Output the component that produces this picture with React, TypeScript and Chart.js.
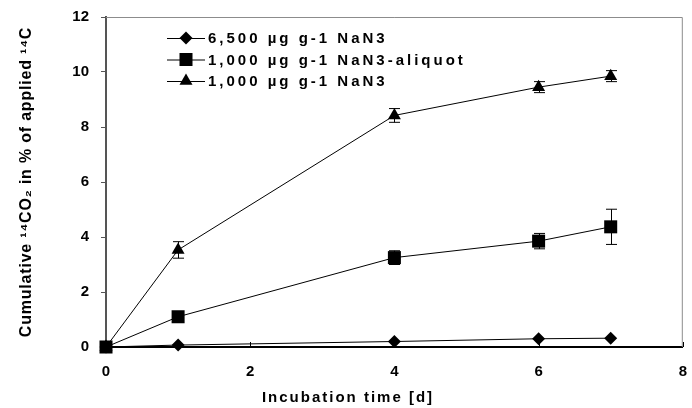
import React, { useEffect, useRef } from 'react';
import { Chart, registerables } from 'chart.js';

Chart.register(...registerables);

// ---- data ----
const days = [0, 1, 4, 6, 7];
const seriesLabels = ['6,500 µg g-1 NaN3', '1,000 µg g-1 NaN3-aliquot', '1,000 µg g-1 NaN3'];
const highDose = [0, 0.07, 0.2, 0.3, 0.32];
const highDoseErr = [0, 0, 0, 0, 0];
const aliquot = [0, 1.1, 3.25, 3.85, 4.37];
const aliquotErr = [0, 0, 0.25, 0.28, 0.64];
const lowDose = [0, 3.53, 8.42, 9.45, 9.85];
const lowDoseErr = [0, 0.3, 0.25, 0.2, 0.2];
const markerStyles = ['rectRot', 'rect', 'triangle'];
const markerRadius = [6.5, 9.2, 7.5];
const xTickValues = [0, 2, 4, 6, 8];
const yTickValues = [0, 2, 4, 6, 8, 10, 12];
const xTitle = 'Incubation time [d]';
const yTitle = 'Cumulative \u00B9\u2074CO\u2082 in % of applied \u00B9\u2074C';

const FONT = "'Liberation Sans', Arial, sans-serif";

function drawMarker(ctx: CanvasRenderingContext2D, style: string, x: number, y: number, r: number) {
  ctx.beginPath();
  if (style === 'rectRot') {
    ctx.moveTo(x - r, y);
    ctx.lineTo(x, y - r);
    ctx.lineTo(x + r, y);
    ctx.lineTo(x, y + r);
  } else if (style === 'rect') {
    const s = Math.SQRT1_2 * r;
    ctx.rect(x - s, y - s, 2 * s, 2 * s);
  } else {
    for (let k = 0; k < 3; k++) {
      const a = (k * 2 * Math.PI) / 3;
      const px = x + Math.sin(a) * r;
      const py = y - Math.cos(a) * r;
      if (k === 0) ctx.moveTo(px, py);
      else ctx.lineTo(px, py);
    }
  }
  ctx.closePath();
  ctx.fill();
}

const zeroPadding = () => ({ left: 0, right: 0, top: 0, bottom: 0 });

const decorPlugin = {
  id: 'decor',
  beforeDatasetsDraw(chart: any) {
    const { ctx, chartArea, scales } = chart;
    const xs = scales.x;
    const ys = scales.y;
    ctx.save();
    // plot-area border top/right
    ctx.strokeStyle = '#8c8c8c';
    ctx.lineWidth = 1;
    ctx.beginPath();
    ctx.moveTo(chartArea.left, chartArea.top + 0.5);
    ctx.lineTo(chartArea.right - 0.5, chartArea.top + 0.5);
    ctx.lineTo(chartArea.right - 0.5, chartArea.bottom);
    ctx.stroke();
    // inward x ticks
    ctx.strokeStyle = '#000';
    ctx.beginPath();
    xTickValues.forEach((v) => {
      const px = Math.round(xs.getPixelForValue(v)) + 0.5;
      ctx.moveTo(px, chartArea.bottom);
      ctx.lineTo(px, chartArea.bottom - 5);
    });
    ctx.stroke();
    // error bars
    ctx.lineWidth = 1;
    chart.data.datasets.forEach((ds: any) => {
      ds.data.forEach((p: any, i: number) => {
        const e = ds.errors[i];
        if (!e) return;
        const x = Math.round(xs.getPixelForValue(p.x)) + 0.5;
        const y1 = ys.getPixelForValue(p.y + e);
        const y2 = ys.getPixelForValue(p.y - e);
        ctx.beginPath();
        ctx.moveTo(x, y1);
        ctx.lineTo(x, y2);
        ctx.moveTo(x - 5.5, y1);
        ctx.lineTo(x + 5.5, y1);
        ctx.moveTo(x - 5.5, y2);
        ctx.lineTo(x + 5.5, y2);
        ctx.stroke();
      });
    });
    ctx.restore();
  },
  afterDraw(chart: any) {
    const { ctx, chartArea } = chart;
    ctx.save();
    ctx.fillStyle = '#000';
    ctx.strokeStyle = '#000';
    // legend
    chart.data.datasets.forEach((ds: any, i: number) => {
      const y = chartArea.top + 21 + i * 21.5;
      const x0 = chartArea.left + 61;
      ctx.lineWidth = 1;
      ctx.beginPath();
      ctx.moveTo(x0, y + 0.5);
      ctx.lineTo(x0 + 38, y + 0.5);
      ctx.stroke();
      drawMarker(ctx, ds.pointStyle, x0 + 19, y, ds.pointRadius);
      ctx.font = `bold 15px ${FONT}`;
      (ctx as any).letterSpacing = '3px';
      ctx.textAlign = 'left';
      ctx.textBaseline = 'middle';
      ctx.fillText(ds.label, x0 + 41, y + 1);
    });
    // x title
    ctx.font = `bold 15px ${FONT}`;
    (ctx as any).letterSpacing = '2px';
    ctx.textAlign = 'center';
    ctx.textBaseline = 'middle';
    ctx.fillText(xTitle, chartArea.left + 242, 398);
    // y title
    (ctx as any).letterSpacing = '0.8px';
    ctx.font = `bold 16px ${FONT}`;
    ctx.translate(27, (chartArea.top + chartArea.bottom) / 2);
    ctx.rotate(-Math.PI / 2);
    ctx.fillText(yTitle, 0, 0);
    ctx.restore();
  },
};

export default function App() {
  const canvasRef = useRef<HTMLCanvasElement | null>(null);

  useEffect(() => {
    const canvas = canvasRef.current;
    if (!canvas) return;
    const seriesValues = [highDose, aliquot, lowDose];
    const seriesErrors = [highDoseErr, aliquotErr, lowDoseErr];
    const datasets = seriesLabels.map((label, i) => ({
      label,
      data: days.map((d, j) => ({ x: d, y: seriesValues[i][j] })),
      errors: seriesErrors[i],
      borderColor: '#000',
      backgroundColor: '#000',
      borderWidth: 1,
      pointStyle: markerStyles[i],
      pointRadius: markerRadius[i],
      pointBorderWidth: 0,
      pointBackgroundColor: '#000',
      pointBorderColor: '#000',
      tension: 0,
      clip: false as any,
    }));

    const chart = new Chart(canvas, {
      type: 'line',
      data: { datasets: datasets as any },
      plugins: [decorPlugin as any],
      options: {
        responsive: false,
        animation: false,
        layout: { padding: { top: 17, right: 2, left: 0, bottom: 0 } },
        plugins: { legend: { display: false }, tooltip: { enabled: false } },
        scales: {
          x: {
            type: 'linear',
            min: 0,
            max: 8,
            afterBuildTicks: (scale: any) => {
              scale.ticks = xTickValues.map((v) => ({ value: v }));
            },
            afterFit: (scale: any) => {
              scale.height = 61;
              scale.paddingLeft = 0;
              scale.paddingRight = 0;
              scale.paddingTop = 0;
              scale.paddingBottom = 0;
              scale.getPadding = zeroPadding;
            },
            grid: { display: true, drawOnChartArea: false, drawTicks: false },
            border: { display: true, color: '#000', width: 2 },
            ticks: {
              padding: 16,
              color: '#000',
              maxRotation: 0,
              autoSkip: false,
              font: { family: FONT, size: 15, weight: 'bold' },
            },
          },
          y: {
            type: 'linear',
            min: 0,
            max: 12,
            afterBuildTicks: (scale: any) => {
              scale.ticks = yTickValues.map((v) => ({ value: v }));
            },
            afterFit: (scale: any) => {
              scale.width = 106;
              scale.paddingLeft = 0;
              scale.paddingRight = 0;
              scale.paddingTop = 0;
              scale.paddingBottom = 0;
              scale.getPadding = zeroPadding;
            },
            grid: { display: true, drawOnChartArea: false, drawTicks: true, tickLength: 5, color: '#555' },
            border: { display: true, color: '#555', width: 2 },
            ticks: {
              padding: 12,
              color: '#000',
              font: { family: FONT, size: 15, weight: 'bold' },
            },
          },
        },
      } as any,
    });
    return () => chart.destroy();
  }, []);

  return (
    <div style={{ position: 'fixed', left: 0, top: 0, width: 692, height: 408, background: '#fff' }}>
      <canvas ref={canvasRef} width={692} height={408} style={{ width: 692, height: 408, display: 'block' }} />
    </div>
  );
}
